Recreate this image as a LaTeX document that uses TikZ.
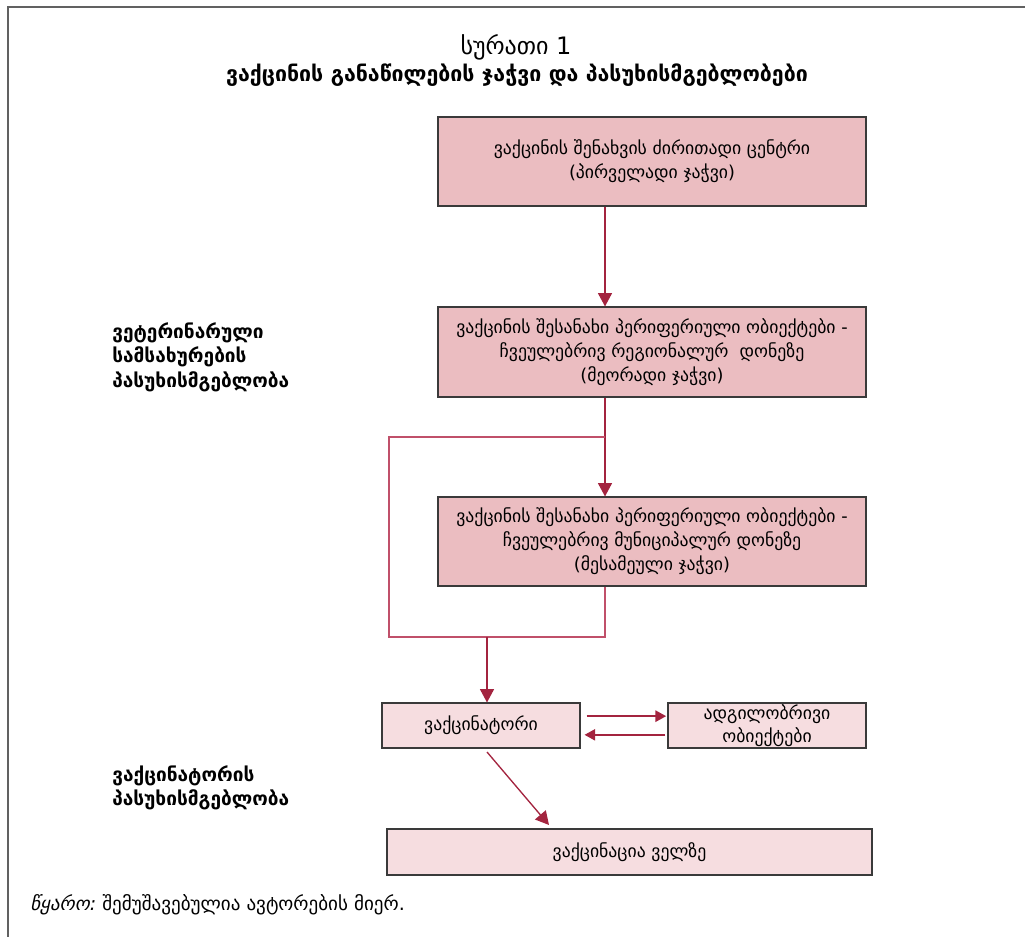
\documentclass[tikz,border=0pt]{standalone}
\usepackage{fontspec}
\setmainfont{DejaVu Sans}
\usetikzlibrary{arrows.meta}
\definecolor{boxdark}{HTML}{EBBDC1}
\definecolor{boxlight}{HTML}{F6DDE0}
\definecolor{edgegray}{HTML}{3A3A3A}
\definecolor{arrowred}{HTML}{A3243F}
\definecolor{linered}{HTML}{C0506A}
\tikzset{
  chainbox/.style={draw=edgegray, line width=0.8pt, fill=boxdark, align=center,
    inner sep=0pt, font=\fontsize{13.3}{18}\selectfont},
  lightbox/.style={draw=edgegray, line width=0.8pt, fill=boxlight, align=center,
    inner sep=0pt, font=\fontsize{13.3}{18}\selectfont},
  sidelabel/.style={anchor=north west, align=left, inner sep=0pt,
    font=\fontsize{14.3}{18.5}\selectfont\bfseries},
  flowarrow/.style={draw=arrowred, line width=1pt, -{Triangle[length=10pt,width=10.5pt]}},
  smallarrow/.style={draw=arrowred, line width=1.2pt, -{Triangle[length=8pt,width=8.5pt]}},
  bracketline/.style={draw=linered, line width=1pt},
}
\begin{document}
\begin{tikzpicture}[x=0.75pt,y=-0.75pt]
\useasboundingbox (0,0) rectangle (1025,937);
% frame
\draw[draw=edgegray!80, line width=1.6pt] (8,937) -- (8,7) -- (1025,7);
% title
\node[font=\fontsize{18}{20}\selectfont] (t1) at (516,47) {სურათი 1};
\node[font=\fontsize{16}{20}\selectfont\bfseries] (t2) at (517,75) {ვაქცინის განაწილების ჯაჭვი და პასუხისმგებლობები};
% boxes
\node[chainbox, minimum width={428*0.75pt}, minimum height={89*0.75pt}] (b1) at (652,161.5)
  {ვაქცინის შენახვის ძირითადი ცენტრი\\(პირველადი ჯაჭვი)};
\node[chainbox, minimum width={428*0.75pt}, minimum height={90*0.75pt}] (b2) at (652,352)
  {ვაქცინის შესანახი პერიფერიული ობიექტები -\\ჩვეულებრივ რეგიონალურ\ \ დონეზე\\(მეორადი ჯაჭვი)};
\node[chainbox, minimum width={428*0.75pt}, minimum height={89*0.75pt}] (b3) at (652,541.5)
  {ვაქცინის შესანახი პერიფერიული ობიექტები -\\ჩვეულებრივ მუნიციპალურ დონეზე\\(მესამეული ჯაჭვი)};
\node[lightbox, minimum width={198*0.75pt}, minimum height={45*0.75pt}] (vac) at (481,725.5) {ვაქცინატორი};
\node[lightbox, minimum width={198*0.75pt}, minimum height={45*0.75pt}, font=\fontsize{13.3}{17}\selectfont] (loc) at (767,725.5) {ადგილობრივი\\ობიექტები};
\node[lightbox, minimum width={485*0.75pt}, minimum height={46*0.75pt}] (fld) at (629.5,852) {ვაქცინაცია ველზე};
% side labels
\node[sidelabel] (l1) at (112,322) {ვეტერინარული\\სამსახურების\\პასუხისმგებლობა};
\node[sidelabel] (l2) at (112,765) {ვაქცინატორის\\პასუხისმგებლობა};
% source
\node[anchor=west, inner sep=0pt, font=\fontsize{14.3}{16}\selectfont] (src) at (30,905) {\itshape წყარო:\upshape\ შემუშავებულია ავტორების მიერ.};
% connectors
\coordinate (j1) at (605,437);
\coordinate (j2) at (389,437);
\coordinate (j3) at (389,637);
\coordinate (j4) at (605,637);
\coordinate (j5) at (487,637);
\coordinate (d1) at (487,752);
\coordinate (d2) at (549,825);
\draw[flowarrow] (b1.south -| j1) -- (b2.north -| j1);
\draw[flowarrow] (b2.south -| j1) -- (b3.north -| j1);
\draw[bracketline] (j1) -- (j2) -- (j3) -- (j4) -- (b3.south -| j4);
\draw[flowarrow] (j5) -- (vac.north -| j5);
\draw[smallarrow] ([xshift=4.5pt,yshift=7pt]vac.east) -- ([xshift=-1pt,yshift=7pt]loc.west);
\draw[smallarrow] ([xshift=-1.5pt,yshift=-7pt]loc.west) -- ([xshift=3pt,yshift=-7pt]vac.east);
\draw[flowarrow] (d1) -- (d2);
\end{tikzpicture}
\end{document}
